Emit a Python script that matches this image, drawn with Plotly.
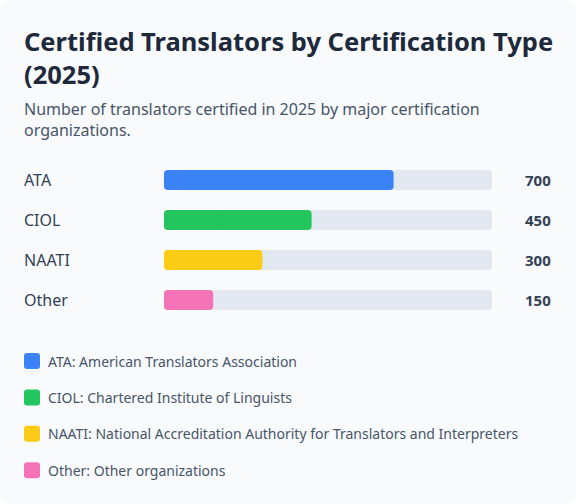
import plotly.graph_objects as go

# data
categories = ["ATA", "CIOL", "NAATI", "Other"]
values = [700, 450, 300, 150]
colors = ["#3b82f6", "#22c55e", "#facc15", "#f472b6"]
legend_labels = [
    "ATA: American Translators Association",
    "CIOL: Chartered Institute of Linguists",
    "NAATI: National Accreditation Authority for Translators and Interpreters",
    "Other: Other organizations",
]
scale_max = 1000

W, H = 576, 504
FONT = "Noto Sans"


def px_x(x):
    return x / W


def px_y(y):
    return 1 - y / H


def rounded_rect(x0, y0, x1, y1, r):
    # pixel coords (top-left origin) -> paper path
    X = lambda v: px_x(v)
    Y = lambda v: px_y(v)
    rx, ry = r / W, r / H
    return (
        f"M {X(x0) + rx},{Y(y0)} L {X(x1) - rx},{Y(y0)} "
        f"Q {X(x1)},{Y(y0)} {X(x1)},{Y(y0) - ry} "
        f"L {X(x1)},{Y(y1) + ry} Q {X(x1)},{Y(y1)} {X(x1) - rx},{Y(y1)} "
        f"L {X(x0) + rx},{Y(y1)} Q {X(x0)},{Y(y1)} {X(x0)},{Y(y1) + ry} "
        f"L {X(x0)},{Y(y0) - ry} Q {X(x0)},{Y(y0)} {X(x0) + rx},{Y(y0)} Z"
    )


def pill(fig, lengths, color, hover=True):
    # two overlapping pieces growing outward so both ends get rounded corners
    for sign in (-1, 1):
        base = [v * (0.6 if sign < 0 else 0.4) for v in lengths]
        fig.add_trace(go.Bar(
            y=categories, x=[sign * v * 0.6 for v in lengths], base=base,
            orientation="h",
            marker=dict(color=color, line=dict(width=0)), width=0.5,
            hoverinfo="skip" if not hover else None,
            customdata=lengths,
            hovertemplate="%{y}: %{customdata}<extra></extra>" if hover else None,
            showlegend=False,
        ))


fig = go.Figure()
pill(fig, [scale_max] * len(categories), "#e2e8f0", hover=False)
pill(fig, values, colors)

shapes = [dict(
    type="path", xref="paper", yref="paper", layer="below",
    path=rounded_rect(0, 0, W, H, 12),
    fillcolor="#f8fafc", line=dict(width=0),
)]

annotations = [
    dict(text="<b>Certified Translators by Certification Type<br>(2025)</b>",
         x=px_x(22), y=px_y(22), xref="paper", yref="paper",
         xanchor="left", yanchor="top", align="left", showarrow=False,
         font=dict(family=FONT, size=25.5, color="#1e293b")),
    dict(text="Number of translators certified in 2025 by major certification<br>organizations.",
         x=px_x(22), y=px_y(96), xref="paper", yref="paper",
         xanchor="left", yanchor="top", align="left", showarrow=False,
         font=dict(family=FONT, size=16, color="#475569")),
]

for cat, val in zip(categories, values):
    annotations.append(dict(
        text=cat, x=px_x(22), y=cat, xref="paper", yref="y",
        xanchor="left", yanchor="middle", showarrow=False,
        font=dict(family=FONT, size=16, color="#334155")))
    annotations.append(dict(
        text=f"<b>{val}</b>", x=px_x(553), y=cat, xref="paper", yref="y",
        xanchor="right", yanchor="middle", showarrow=False,
        font=dict(family=FONT, size=15, color="#334155")))

# legend rows
for i, (lab, col) in enumerate(zip(legend_labels, colors)):
    cy = 361 + i * 36.4
    shapes.append(dict(
        type="path", xref="paper", yref="paper",
        path=rounded_rect(24, cy - 8, 40, cy + 8, 3),
        fillcolor=col, line=dict(width=0)))
    annotations.append(dict(
        text=lab, x=px_x(46), y=px_y(cy), xref="paper", yref="paper",
        xanchor="left", yanchor="middle", showarrow=False,
        font=dict(family=FONT, size=14, color="#475569")))

fig.update_layout(
    width=W, height=H,
    margin=dict(l=0, r=0, t=0, b=0),
    paper_bgcolor="white", plot_bgcolor="rgba(0,0,0,0)",
    barmode="overlay", barcornerradius=4,
    xaxis=dict(range=[0, scale_max], domain=[px_x(164), px_x(492)],
               visible=False, fixedrange=True),
    yaxis=dict(categoryorder="array", categoryarray=categories,
               range=[3.5, -0.5], domain=[px_y(320), px_y(160)],
               visible=False, fixedrange=True),
    shapes=shapes, annotations=annotations,
    font=dict(family=FONT),
)

fig.write_html("out.html", config={"displayModeBar": False},
               post_script="document.body.style.margin='0';")
